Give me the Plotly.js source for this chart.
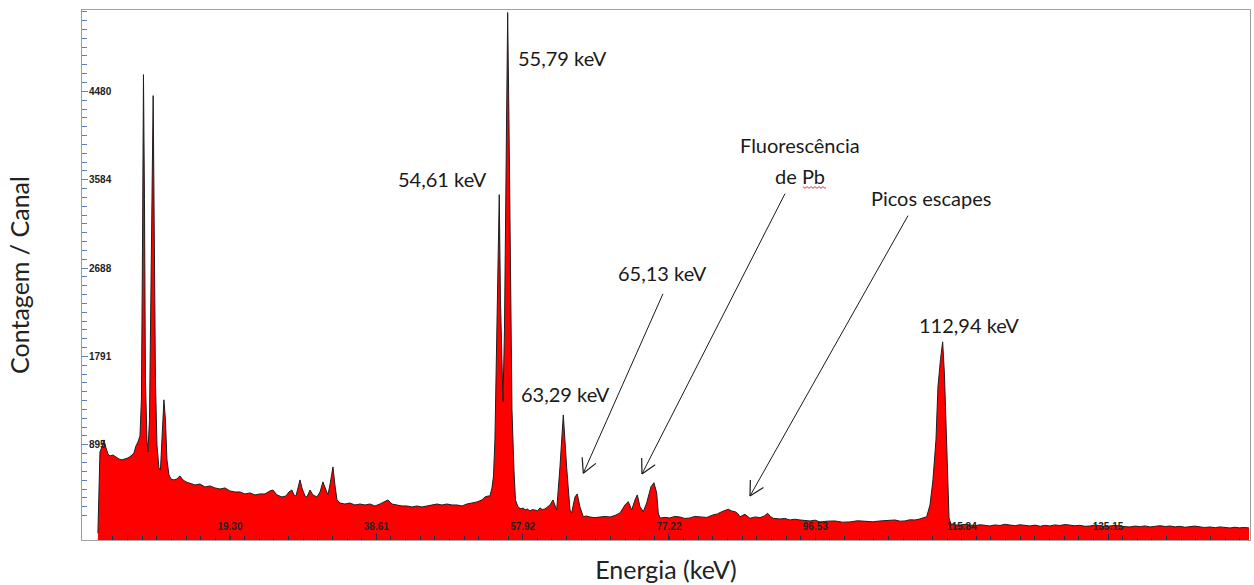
<!DOCTYPE html>
<html>
<head>
<meta charset="utf-8">
<script src="https://cdn.plot.ly/plotly-3.0.1.min.js"></script>
<style>html,body{margin:0;padding:0;background:#fff}#chart{width:1254px;height:585px}</style>
</head>
<body>
<div id="chart"></div>
<script>
// ---- Data ----
const energy = [
 1.88,2.15,2.41,2.68,2.94,3.20,3.47,3.86,4.26,4.65,5.05,5.45,5.84,6.24,6.63,6.90,7.16,7.43,7.62,7.76,
 7.89,8.02,8.15,8.35,8.48,8.68,8.88,9.04,9.17,9.30,9.47,9.67,9.93,10.13,10.33,10.46,10.59,10.79,10.99,11.25,
 11.52,11.91,12.31,12.70,13.10,13.50,14.02,14.68,15.34,16.00,16.66,17.32,17.98,18.64,19.30,19.96,20.62,21.28,21.94,22.60,
 23.26,23.92,24.58,24.97,25.50,26.16,26.69,27.08,27.48,27.74,28.01,28.27,28.54,28.80,29.20,29.46,29.86,30.25,30.78,31.18,
 31.57,31.97,32.23,32.49,32.89,33.15,33.42,33.81,34.47,35.13,35.79,36.45,37.11,37.77,38.43,39.09,39.75,40.15,40.67,41.33,
 41.99,42.65,43.31,43.97,44.63,45.29,45.95,46.61,47.27,47.93,48.59,49.25,49.91,50.57,51.23,51.89,52.55,52.94,53.34,53.60,
 53.87,54.07,54.26,54.49,54.66,54.83,54.99,55.19,55.32,55.52,55.72,55.94,56.11,56.31,56.51,56.77,56.97,57.30,57.70,58.00,
 58.22,58.55,58.88,59.20,59.54,59.90,60.20,60.50,60.86,61.20,61.52,61.92,62.15,62.41,62.84,63.28,63.72,64.16,64.38,64.82,
 65.12,65.48,65.92,66.35,66.80,67.45,68.12,68.80,69.44,70.10,70.76,71.42,71.85,72.30,72.74,73.04,73.40,73.83,74.28,74.85,
 75.24,75.60,75.81,76.03,76.70,77.35,78.00,78.67,79.30,79.99,80.60,81.31,82.20,83.03,83.60,84.18,84.60,85.05,85.50,85.93,
 86.30,86.59,87.25,87.60,87.91,88.60,89.23,89.80,90.24,90.60,90.98,91.87,92.50,93.19,93.80,94.51,95.20,95.83,96.50,97.15,
 98.10,99.13,100.10,101.10,102.10,103.08,104.10,105.06,106.00,107.04,107.70,108.36,109.00,109.68,110.20,110.60,111.22,111.66,112.05,112.45,
 112.71,113.04,113.33,113.57,113.77,113.97,114.17,114.43,114.96,115.62,116.30,116.94,117.60,118.30,118.90,119.57,120.20,120.90,121.50,122.21,
 122.90,123.50,124.20,124.85,125.50,126.20,126.80,127.49,128.10,128.80,129.50,130.13,130.80,131.40,132.10,132.77,133.40,134.10,134.80,135.41,
 136.10,136.70,137.40,138.05,138.70,139.40,140.00,140.69,141.40,142.00,142.70,143.33,144.00,144.60,145.30,145.96,146.60,147.30,147.90,148.60,
 149.30,149.90,150.60,151.24,151.90,152.50,153.20,153.75
];
const counts = [
 0,824,875,946,865,804,783,793,773,753,743,753,763,783,814,885,925,986,1352,2874,
 4649,3381,1555,946,824,1149,2366,3888,4436,3178,1555,895,662,641,946,1250,1352,1149,743,591,
 550,540,550,580,540,520,509,489,499,469,479,459,448,459,428,418,418,398,408,388,
 398,398,428,438,388,367,377,418,438,388,377,459,540,459,377,367,438,388,367,418,
 520,438,388,489,672,489,337,306,296,306,286,296,286,296,276,296,317,337,296,286,
 276,276,266,276,266,276,286,296,286,296,286,286,276,296,306,317,337,367,377,377,
 459,580,946,1839,2569,3432,2366,1555,1331,2062,3888,5278,4193,2366,1250,641,337,266,246,256,
 235,245,225,240,235,228,256,240,246,262,286,337,280,235,672,1199,672,235,205,367,
 398,266,167,175,164,158,164,170,164,180,205,286,320,235,337,388,269,218,306,472,
 512,408,205,154,160,154,170,164,150,154,170,167,160,185,195,218,230,243,225,218,
 200,167,192,170,151,165,157,175,202,170,151,144,150,134,142,134,128,124,132,114,
 122,124,112,114,126,124,116,124,130,134,122,124,136,134,142,154,167,286,540,946,
 1483,1757,1940,1605,1149,641,154,93,83,83,90,83,76,86,80,73,84,78,90,83,
 76,86,80,73,82,70,80,73,84,78,88,83,75,80,70,73,82,76,68,73,
 80,70,66,63,72,66,74,63,70,76,68,73,64,70,60,63,72,64,58,63,
 56,64,58,53,60,54,58,53
];
const xTickVals = [19.30, 38.61, 57.92, 77.22, 96.53, 115.84, 135.15];
const xTickText = ['19.30', '38.61', '57.92', '77.22', '96.53', '115.84', '135.15'];
const yTickVals = [895, 1791, 2688, 3584, 4480];
const yTickText = ['895', '1791', '2688', '3584', '4480'];

// ---- Layout constants ----
const W = 1254, H = 585;
const M = {l: 82, r: 4, t: 10, b: 45};
const X_RANGE = [-0.22, 153.88];
const Y_RANGE = [-69, 5304];
const TXT_FONT = 'Lato, "Open Sans", sans-serif';

const traces = [
  { // baseline at the bottom of the axis, used as the fill floor
    x: [energy[0], energy[energy.length - 1]],
    y: [Y_RANGE[0], Y_RANGE[0]],
    mode: 'lines', line: {width: 0, color: 'rgba(0,0,0,0)'},
    hoverinfo: 'skip', showlegend: false
  },
  {
    x: energy, y: counts, mode: 'lines',
    line: {color: '#1e1e1e', width: 1},
    fill: 'tonexty', fillcolor: '#ff0000',
    name: 'Espectro', showlegend: false
  }
];

// annotation text labels
const annotations = [
  {x: 63.17, y: 4822, text: '55,79 keV'},
  {x: 47.40, y: 3594, text: '54,61 keV'},
  {x: 76.36, y: 2640, text: '65,13 keV'},
  {x: 63.63, y: 1412, text: '63,29 keV'},
  {x: 94.51, y: 3939, text: 'Fluorescência'},
  {x: 94.57, y: 3625, text: 'de Pb'},
  {x: 111.79, y: 3401, text: 'Picos escapes'},
  {x: 116.87, y: 2113, text: '112,94 keV'}
].map(a => Object.assign({
  xref: 'x', yref: 'y', showarrow: false, xanchor: 'center', yanchor: 'middle',
  font: {family: TXT_FONT, size: 20, color: '#1a1a1a'}
}, a));

// arrows (tail -> tip) in data coordinates
const arrows = [
  {tail: [76.43, 2427], tip: [65.92, 608]},
  {tail: [92.53, 3442], tip: [73.66, 601]},
  {tail: [108.76, 3219], tip: [87.91, 377]}
];
const plotW = W - M.l - M.r, plotH = H - M.t - M.b;
const pxX = plotW / (X_RANGE[1] - X_RANGE[0]);
const pxY = plotH / (Y_RANGE[1] - Y_RANGE[0]);
const shapes = [];
arrows.forEach(a => {
  shapes.push({type: 'line', xref: 'x', yref: 'y', x0: a.tail[0], y0: a.tail[1], x1: a.tip[0], y1: a.tip[1],
    line: {color: '#1a1a1a', width: 1}});
  let dx = (a.tail[0] - a.tip[0]) * pxX;
  let dy = -(a.tail[1] - a.tip[1]) * pxY;
  const L = Math.hypot(dx, dy); dx /= L; dy /= L;
  const ang = 28 * Math.PI / 180, len = 16;
  [ang, -ang].forEach(t => {
    const rx = dx * Math.cos(t) - dy * Math.sin(t);
    const ry = dx * Math.sin(t) + dy * Math.cos(t);
    shapes.push({type: 'line', xref: 'x', yref: 'y', xsizemode: 'pixel', ysizemode: 'pixel',
      xanchor: a.tip[0], yanchor: a.tip[1], x0: 0, y0: 0, x1: rx * len, y1: -ry * len,
      line: {color: '#1a1a1a', width: 1.2}});
  });
});
// red spell-check squiggle under "Pb"
shapes.push({type: 'path', xref: 'x', yref: 'y', xsizemode: 'pixel', ysizemode: 'pixel',
  xanchor: 94.90, yanchor: 3513,
  path: 'M0,0 L2,-1.6 L4,0 L6,-1.6 L8,0 L10,-1.6 L12,0 L14,-1.6 L16,0 L18,-1.6 L20,0 L22,-1.6 L23,-0.8',
  line: {color: '#e03a3a', width: 1}});

const layout = {
  width: W, height: H, margin: M,
  paper_bgcolor: '#ffffff', plot_bgcolor: '#ffffff', showlegend: false,
  xaxis: {
    range: X_RANGE, showgrid: false, zeroline: false,
    showline: true, mirror: true, linecolor: '#a2a2a2', linewidth: 1,
    ticks: 'inside', ticklen: 7, tickcolor: '#25305a', tickwidth: 1,
    tickvals: xTickVals, ticktext: xTickText, ticklabelposition: 'inside',
    tickfont: {family: '"Liberation Sans", Arial, sans-serif', size: 10, color: '#222', weight: 'bold'},
    minor: {ticks: 'inside', ticklen: 4, tickcolor: '#25305a', dtick: 1.9307, tick0: 0, showgrid: false},
    title: {text: 'Energia (keV)', font: {family: TXT_FONT, size: 25, color: '#222'}, standoff: 30},
    automargin: false, fixedrange: true
  },
  yaxis: {
    range: Y_RANGE, showgrid: false, zeroline: false,
    showline: true, mirror: true, linecolor: '#9a9a9a', linewidth: 1,
    ticks: 'inside', ticklen: 6, tickcolor: '#5a80c0', tickwidth: 1,
    tickvals: yTickVals, ticktext: yTickText, ticklabelposition: 'inside',
    tickfont: {family: '"Liberation Sans", Arial, sans-serif', size: 10, color: '#222', weight: 'bold'},
    minor: {ticks: 'inside', ticklen: 5, tickcolor: '#5a80c0', dtick: 89.59, tick0: 0, showgrid: false},
    title: {text: 'Contagem / Canal', font: {family: TXT_FONT, size: 25, color: '#222'}, standoff: 52},
    automargin: false, fixedrange: true
  },
  annotations: annotations,
  shapes: shapes
};

Plotly.newPlot('chart', traces, layout, {displayModeBar: false, staticPlot: true});
</script>
</body>
</html>
